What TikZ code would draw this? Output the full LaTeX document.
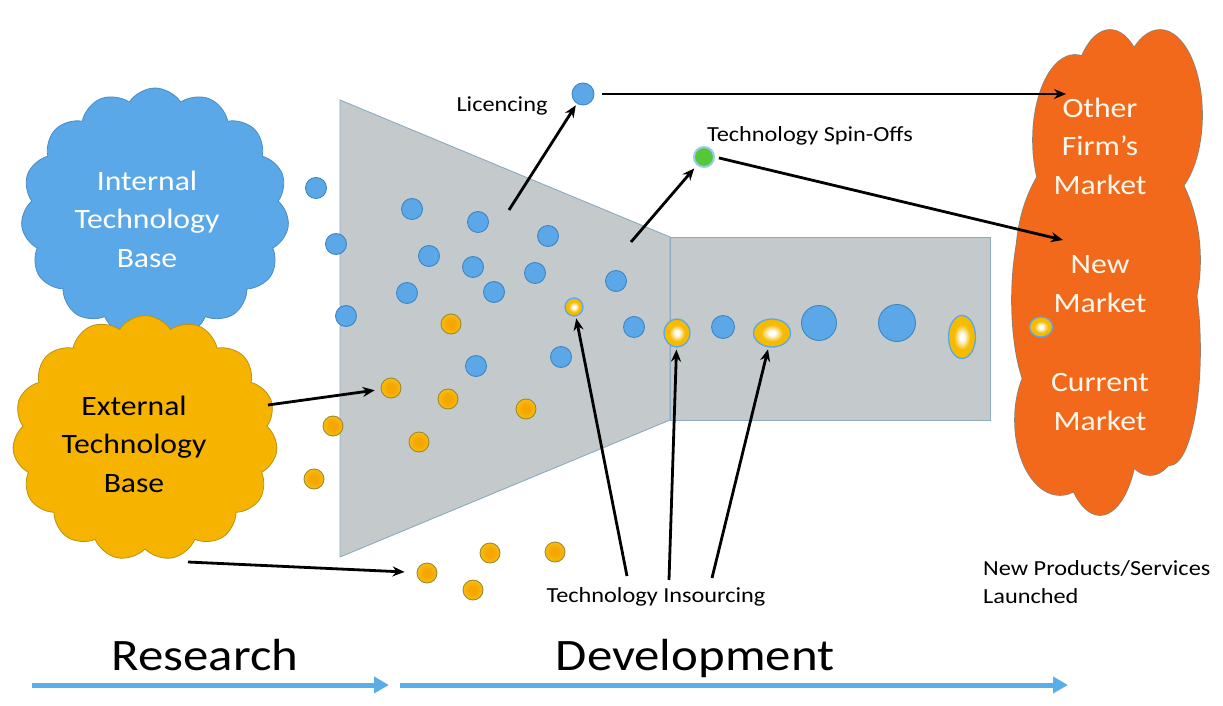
\documentclass[tikz,border=0pt]{standalone}
\usepackage{fontspec}
\setmainfont{Carlito}[FakeStretch=1.13]
\usetikzlibrary{shapes.symbols,shapes.geometric,arrows.meta}
\definecolor{cblue}{HTML}{5BA8E8}
\definecolor{cblueline}{HTML}{4A8CC6}
\definecolor{cyellow}{HTML}{F6B400}
\definecolor{cyellowline}{HTML}{B99214}
\definecolor{corange}{HTML}{F2691C}
\definecolor{corangeline}{HTML}{8A8070}
\definecolor{funnelfill}{HTML}{C4CACB}
\definecolor{funnelline}{HTML}{8CAAC0}
\definecolor{dotblue}{HTML}{5BA7E8}
\definecolor{dotblueline}{HTML}{3C86C6}
\definecolor{dotyel}{HTML}{F8BE10}
\definecolor{dotora}{HTML}{F6A600}
\definecolor{dotyelline}{HTML}{9A8A30}
\definecolor{glowyel}{HTML}{F6BA00}
\definecolor{dotgreen}{HTML}{55C83A}
\definecolor{arrblue}{HTML}{5AAEE8}
\definecolor{offwhite}{HTML}{FFF8EC}
\pgfdeclareradialshading{glowshade}{\pgfpoint{0bp}{0bp}}{color(0bp)=(white); color(4bp)=(white); color(15bp)=(glowyel); color(35bp)=(glowyel); color(40bp)=(white); color(50bp)=(white)}
\pgfdeclareradialshading{yelshade}{\pgfpoint{0bp}{0bp}}{color(0bp)=(dotora); color(10bp)=(dotora); color(26bp)=(dotyel); color(50bp)=(dotyel)}
\begin{document}
\begin{tikzpicture}[x=1pt,y=-1pt,
  cloudtext/.style={align=center, font=\fontsize{28}{38.5}\selectfont, inner sep=0pt},
  label/.style={inner sep=0pt, font=\fontsize{21.5}{28}\selectfont},
  big/.style={inner sep=0pt, font=\fontsize{45}{50}\selectfont},
  bdot/.style={circle, inner sep=0pt, minimum size=21pt, fill=dotblue, draw=dotblueline, line width=0.9pt},
  ydot/.style={circle, inner sep=0pt, minimum size=20pt, shading=yelshade, draw=dotyelline, line width=0.9pt},
  glow/.style={ellipse, inner sep=0pt, shading=glowshade, draw=dotblue, line width=1.3pt},
  arr/.style={line width=2.8pt, -{Stealth[length=12pt,width=10pt]}},
  bluearr/.style={draw=arrblue, line width=5pt, -{Triangle[length=15pt,width=16pt]}},
  funnel/.style={fill=funnelfill, draw=funnelline, line width=0.9pt},
  lobeline/.style={draw=corangeline, line width=1.6pt},
  lobefill/.style={fill=corange}
]
\useasboundingbox (0,0) rectangle (1223,706);

% clouds
\node[cloud, cloud puffs=15, cloud puff arc=115, cloud ignores aspect,
  minimum width=268pt, minimum height=250pt, fill=cblue, draw=cblueline, line width=0.8pt] (ib) at (155,213) {};
\node[cloud, cloud puffs=15, cloud puff arc=115, cloud ignores aspect,
  minimum width=265pt, minimum height=245pt, fill=cyellow, draw=cyellowline, line width=0.8pt] (eb) at (145,438) {};

% market cloud: union of lobes (outlines first, fills on top)
\foreach \c/\rx/\ry in {{(1075,140)}/42/85,{(1110,110)}/38/80,{(1160,115)}/42/85,{(1108,260)}/92/130,
  {(1170,350)}/30/115,{(1060,420)}/45/75,{(1100,430)}/38/85,{(1150,420)}/32/55,{(1040,300)}/28/100}
  \draw[lobeline] \c ellipse [x radius=\rx, y radius=\ry];
\foreach \c/\rx/\ry in {{(1075,140)}/42/85,{(1110,110)}/38/80,{(1160,115)}/42/85,{(1108,260)}/92/130,
  {(1170,350)}/30/115,{(1060,420)}/45/75,{(1100,430)}/38/85,{(1150,420)}/32/55,{(1040,300)}/28/100}
  \fill[lobefill] \c ellipse [x radius=\rx, y radius=\ry];

% funnel
\draw[funnel] (340,100) -- (670,237) -- (670,420) -- (340,557) -- cycle;
\draw[funnel] (670,237) rectangle (990,420);

% blue dots
\foreach \n/\p in {1/{(316,188)},2/{(412,209)},3/{(478,222)},4/{(548,236)},5/{(336,244)},
  6/{(429,256)},7/{(473,267)},8/{(535,273)},9/{(616,281)},10/{(494,292)},11/{(407,293)},
  12/{(346,316)},13/{(634,327)},14/{(476,366)},15/{(561,357)}}
  \node[bdot] (b\n) at \p {};
\node[bdot, minimum size=23pt] (b16) at (723,327) {};
\node[bdot, minimum size=35pt] (b17) at (819,323) {};
\node[bdot, minimum size=37pt] (b18) at (897,323) {};
\node[bdot, minimum size=22pt] (licdot) at (583,94) {};

% yellow dots
\foreach \n/\p in {1/{(451,324)},2/{(391,388)},3/{(448,399)},4/{(526,409)},5/{(333,426)},
  6/{(419,442)},7/{(314,479)},8/{(427,573)},9/{(490,553)},10/{(555,552)},11/{(473,590)}}
  \node[ydot] (y\n) at \p {};

% glowing (insourced) dots
\node[glow, minimum width=18pt, minimum height=18pt] (g1) at (574,307) {};
\node[glow, minimum width=26pt, minimum height=28pt] (g2) at (677,333) {};
\node[glow, minimum width=37pt, minimum height=28pt] (g3) at (772,333) {};
\node[glow, minimum width=27pt, minimum height=43pt] (g4) at (962,337) {};
\node[glow, minimum width=23pt, minimum height=20pt] (g5) at (1041,327) {};
\node[circle, inner sep=0pt, minimum size=20pt, fill=dotgreen, draw=dotblue!60!white, line width=2pt] (spindot) at (704,157) {};

% texts
\node[cloudtext, text=white] (ibt) at (147,219) {Internal\\Technology\\Base};
\node[cloudtext, text=black] (ebt) at (134,444) {External\\Technology\\Base};
\node[cloudtext, text=offwhite] (m1) at (1100,146) {Other\\Firm’s\\Market};
\node[cloudtext, text=offwhite] (m2) at (1100,284) {New\\Market};
\node[cloudtext, text=offwhite] (m3) at (1100,402) {Current\\Market};
\node[label, anchor=base] (lic) at (502,112) {Licencing};
\node[label, anchor=base] (spin) at (810,142) {Technology Spin-Offs};
\node[label, anchor=base] (ins) at (656,602) {Technology Insourcing};
\node[label, anchor=base west] (np) at (983,575) {New Products/Services};
\node[label, anchor=base west] (la) at (983,603) {Launched};
\node[big, anchor=base] (res) at (205,670) {Research};
\node[big, anchor=base] (dev) at (695,670) {Development};

% connectors
\coordinate (licfrom) at (509,210);
\coordinate (spinfrom) at (631,242);
\coordinate (ofm) at (1066,94);
\coordinate (nm) at (1063,240);
\coordinate (extout) at (268,405);
\coordinate (extout2) at (188,562);
\coordinate (in1) at (627,576);
\coordinate (in2) at (669,580);
\coordinate (in3) at (712,578);
\draw[arr, shorten >=2pt] (licfrom) -- (licdot);
\draw[arr, shorten >=4pt] (spinfrom) -- (spindot);
\draw[arr, shorten <=8pt] (licdot.east) -- (ofm);
\draw[arr, shorten <=4pt] (spindot.east) -- (nm);
\draw[arr, shorten >=6pt] (extout) -- (y2);
\draw[arr, shorten >=12pt] (extout2) -- (y8);
\draw[arr, shorten >=2pt] (in1) -- (g1);
\draw[arr, shorten >=2pt] (in2) -- (g2);
\draw[arr, shorten >=2pt] (in3) -- (g3);

% research / development arrows
\coordinate (r0) at (32,685);
\coordinate (r1) at (389,685);
\coordinate (d0) at (400,685);
\coordinate (d1) at (1068,685);
\draw[bluearr] (r0) -- (r1);
\draw[bluearr] (d0) -- (d1);
\end{tikzpicture}
\end{document}
